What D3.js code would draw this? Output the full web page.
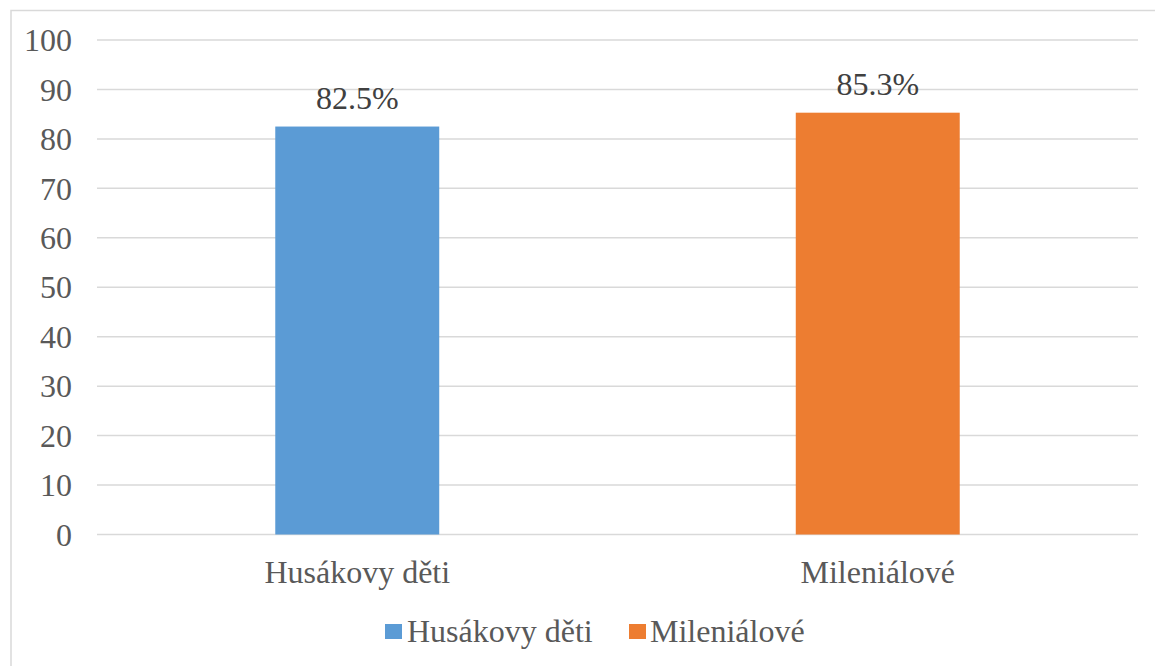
<!DOCTYPE html>
<html>
<head>
<meta charset="utf-8">
<script src="https://cdn.jsdelivr.net/npm/d3@7"></script>
<style>
  html, body { margin: 0; padding: 0; background: #ffffff; font-family: "Times New Roman", "Liberation Serif", serif; }
  svg { display: block; }
  svg text { font-family: "Times New Roman", "Liberation Serif", serif; }
</style>
</head>
<body>
<svg id="chart" width="1155" height="666" font-family="Times New Roman, Liberation Serif, serif"></svg>
<script>
const categories = ["Husákovy děti", "Mileniálové"];
const values = [82.5, 85.3];
const valueLabels = ["82.5%", "85.3%"];
const colors = ["#5B9BD5", "#ED7D31"];
const yTicks = [0, 10, 20, 30, 40, 50, 60, 70, 80, 90, 100];

const FONT = "'Times New Roman', 'Liberation Serif', serif";
const svg = d3.select("#chart");

// chart border (cut by the right and bottom edge)
svg.append("rect")
  .attr("x", 11).attr("y", 10.5)
  .attr("width", 1300).attr("height", 800)
  .attr("fill", "#ffffff")
  .attr("stroke", "#d9d9d9").attr("stroke-width", 1.5);

const plot = { left: 97, right: 1138, top: 40, bottom: 534.5 };

const y = d3.scaleLinear().domain([0, 100]).range([plot.bottom, plot.top]);
const x = d3.scaleBand().domain(categories)
  .range([plot.left, plot.right])
  .paddingInner(0.685).paddingOuter(0.3425);

// gridlines
svg.append("g").selectAll("line").data(yTicks).join("line")
  .attr("x1", plot.left).attr("x2", plot.right)
  .attr("y1", d => y(d)).attr("y2", d => y(d))
  .attr("stroke", "#d9d9d9").attr("stroke-width", 1.5);

// y axis labels
svg.append("g").selectAll("text").data(yTicks).join("text")
  .attr("x", 72).attr("y", d => y(d)).attr("dy", "0.35em")
  .attr("text-anchor", "end")
  .style("font-family", FONT).attr("font-size", 32)
  .attr("fill", "#595959")
  .text(d => d);

// bars
svg.append("g").selectAll("rect").data(categories).join("rect")
  .attr("x", d => x(d))
  .attr("width", x.bandwidth())
  .attr("y", (d, i) => y(values[i]))
  .attr("height", (d, i) => y(0) - y(values[i]))
  .attr("fill", (d, i) => colors[i]);

// value labels
svg.append("g").selectAll("text").data(categories).join("text")
  .attr("x", d => x(d) + x.bandwidth() / 2)
  .attr("y", (d, i) => y(values[i]) - 18)
  .attr("text-anchor", "middle")
  .style("font-family", FONT).attr("font-size", 32)
  .attr("fill", "#404040")
  .text((d, i) => valueLabels[i]);

// x axis labels
svg.append("g").selectAll("text").data(categories).join("text")
  .attr("x", d => x(d) + x.bandwidth() / 2)
  .attr("y", plot.bottom + 48)
  .attr("text-anchor", "middle")
  .style("font-family", FONT).attr("font-size", 32)
  .attr("fill", "#595959")
  .text(d => d);

// legend
const legendItems = [
  { label: categories[0], color: colors[0], sx: 385, tx: 407 },
  { label: categories[1], color: colors[1], sx: 629, tx: 650 }
];
const lg = svg.append("g");
legendItems.forEach(it => {
  lg.append("rect").attr("x", it.sx).attr("y", 624)
    .attr("width", 17).attr("height", 15).attr("fill", it.color);
  lg.append("text").attr("x", it.tx).attr("y", 642)
    .style("font-family", FONT).attr("font-size", 32)
    .attr("fill", "#595959").text(it.label);
});
</script>
</body>
</html>
